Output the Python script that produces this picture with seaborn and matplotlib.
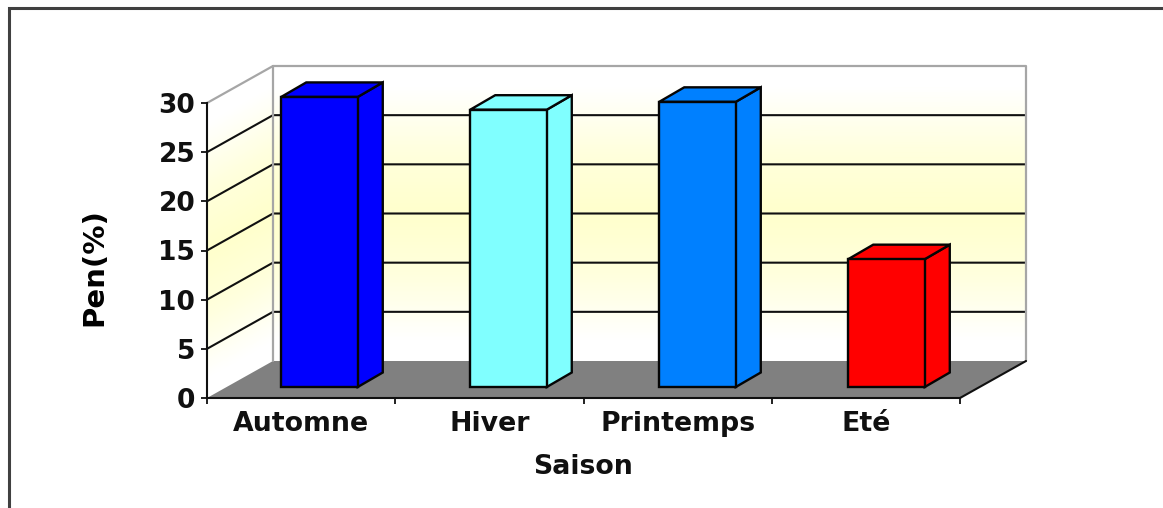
import numpy as np
import pandas as pd
import matplotlib
matplotlib.use("Agg")
import matplotlib.pyplot as plt
from matplotlib.colors import LinearSegmentedColormap
from matplotlib.lines import Line2D
from matplotlib.patches import Polygon
import seaborn as sns

saisons = ["Automne", "Hiver", "Printemps", "Eté"]
pen = [29.5, 28.2, 29.0, 13.0]
couleurs = ["#0000FF", "#80FFFF", "#0080FF", "#FF0000"]
y_ticks = [0, 5, 10, 15, 20, 25, 30]

W, H = 1163, 508
sns.set_theme(style="white")
plt.rcParams["font.family"] = ["DejaVu Sans"]
plt.rcParams["font.weight"] = "bold"

fig = plt.figure(figsize=(W / 100, H / 100), dpi=100, facecolor="white")


def rect(x0, x1, ytop, ybot):
    return [x0 / W, 1 - ybot / H, (x1 - x0) / W, (ybot - ytop) / H]


# Front plane of the 3-D box
ax = fig.add_axes(rect(207, 960, 103, 398))
ax.set_xlim(-0.5, 3.5)
ax.set_ylim(0, 30)
ax.set_facecolor("none")
DX = 66 / (753 / 4)          # wall depth in x data units
DY = 37 / (295 / 30)         # wall depth in y data units

cmap = LinearSegmentedColormap.from_list(
    "fond",
    [(0.0, "#FFFFFF"), (0.07, "#FFFFFF"), (0.3, "#FFFFDC"), (0.5, "#FFFFCC"),
     (0.7, "#FFFFDC"), (0.93, "#FFFFFF"), (1.0, "#FFFFFF")],
)
row = np.linspace(0, 1, 60)
# back wall
xb = np.array([-0.5 + DX, 3.5 + DX])
Xb, Rb = np.meshgrid(xb, row)
Yb = Rb * 30 + DY
ax.pcolormesh(Xb, Yb, Rb, cmap=cmap, shading="gouraud", clip_on=False, zorder=0, rasterized=True)
# left wall (skewed)
t = np.array([0.0, 1.0])
Tl, Rl = np.meshgrid(t, row)
Xl = -0.5 + Tl * DX
Yl = Rl * 30 + Tl * DY
ax.pcolormesh(Xl, Yl, Rl, cmap=cmap, shading="gouraud", clip_on=False, zorder=0, rasterized=True)

# floor
ax.add_patch(Polygon([(-0.5, 0), (3.5, 0), (3.5 + DX, DY), (-0.5 + DX, DY)],
                     closed=True, fc="#808080", ec="none", clip_on=False, zorder=1))

# gridlines along left and back walls
for v in y_ticks[1:-1]:
    ax.plot([-0.5, -0.5 + DX, 3.5 + DX], [v, v + DY, v + DY], color="#101010", lw=1.5,
            clip_on=False, zorder=1, solid_joinstyle="miter")
# outline of the walls
ax.plot([-0.5, -0.5 + DX, 3.5 + DX, 3.5 + DX], [30, 30 + DY, 30 + DY, DY], color="#A6A6A6", lw=1.6,
        clip_on=False, zorder=1)
ax.plot([-0.5 + DX, -0.5 + DX], [DY, 30 + DY], color="#A6A6A6", lw=1.6, clip_on=False, zorder=1)
ax.plot([3.5, 3.5 + DX], [0, DY], color="#101010", lw=1.5, clip_on=False, zorder=2)

for s in ["top", "right"]:
    ax.spines[s].set_visible(False)
for s in ["left", "bottom"]:
    ax.spines[s].set_color("#101010")
    ax.spines[s].set_linewidth(1.5)
    ax.spines[s].set_zorder(3)

ax.set_yticks(y_ticks)
ax.set_yticklabels([str(v) for v in y_ticks], fontsize=19, fontweight="bold", color="#101010")
ax.set_xticks(np.arange(-0.5, 4, 1))
ax.set_xticklabels([])
ax.set_xticks(range(4), minor=True)
ax.set_xticklabels(saisons, minor=True, fontsize=19.3, fontweight="bold", color="#101010")
ax.tick_params(axis="y", which="major", left=True, length=4.5, width=1.3, color="#101010", pad=4)
ax.tick_params(axis="x", which="major", bottom=True, length=4.5, width=1.3, color="#101010")
ax.tick_params(axis="x", which="minor", bottom=False, length=0, pad=9.5)
ax.set_xlabel("Saison", fontsize=19.3, fontweight="bold", color="#101010")
ax.xaxis.set_label_coords(0.5, (398 - 467) / 295, transform=ax.transAxes)
ax.xaxis.label.set_verticalalignment("center")
ax.set_ylabel("Pen(%)", fontsize=21, fontweight="bold", color="black")
ax.yaxis.set_label_coords((94 - 207) / 753, (398 - 267) / 295)
ax.yaxis.label.set_verticalalignment("center")

# Bars sit in their own plane, part way into the box
axb = fig.add_axes(rect(225, 981, 92, 387))
df = pd.DataFrame({"Saison": saisons, "Pen": pen})
sns.barplot(data=df, x="Saison", y="Pen", hue="Saison", palette=couleurs, legend=False,
            width=0.405, saturation=1, edgecolor="#050505", linewidth=1.7, ax=axb, zorder=4)
axb.set_xlim(-0.5, 3.5)
axb.set_ylim(0, 30)
axb.axis("off")
axb.patch.set_visible(False)
bdx = 25 / 189
bdy = 14.5 / (295 / 30)
for bar, col in zip(list(axb.patches), couleurs):
    x0, w, h = bar.get_x(), bar.get_width(), bar.get_height()
    x1 = x0 + w
    axb.add_patch(Polygon([(x1, 0), (x1 + bdx, bdy), (x1 + bdx, h + bdy), (x1, h)], closed=True,
                          fc=col, ec="#050505", lw=1.7, clip_on=False, zorder=3))
    axb.add_patch(Polygon([(x0, h), (x0 + bdx, h + bdy), (x1 + bdx, h + bdy), (x1, h)], closed=True,
                          fc=col, ec="#050505", lw=1.7, clip_on=False, zorder=3))
    bar.set_clip_on(False)

# Picture frame: only top and left edges are visible
fig.add_artist(Line2D([8.5 / W, 8.5 / W, 1], [0, 1 - 7.5 / H, 1 - 7.5 / H],
                      color="#404040", lw=2.2, solid_joinstyle="miter"))

fig.savefig("out.png", dpi=100, facecolor="white")
